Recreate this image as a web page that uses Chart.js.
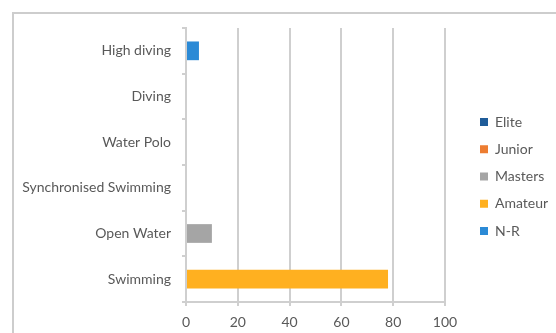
<!DOCTYPE html>
<html><head><meta charset="utf-8">
<script src="https://cdn.jsdelivr.net/npm/chart.js@4/dist/chart.umd.min.js"></script>
<style>
html,body{margin:0;padding:0;background:#fff;}
#wrap{position:relative;width:556px;height:333px;overflow:hidden;background:#fff;}
#frame{position:absolute;left:12px;top:12px;width:600px;height:400px;border:2px solid #cdcdcd;box-sizing:border-box;}
canvas{position:absolute;left:0;top:0;}
</style></head><body>
<div id="wrap"><div id="frame"></div><canvas id="c" width="556" height="333"></canvas></div>
<script>
const categories = ['High diving', 'Diving', 'Water Polo', 'Synchronised Swimming', 'Open Water', 'Swimming'];
const seriesNames = ['Elite', 'Junior', 'Masters', 'Amateur', 'N-R'];
const elite   = [0, 0, 0, 0, 0, 0];
const junior  = [0, 0, 0, 0, 0, 0];
const masters = [0, 0, 0, 0, 10, 0];
const amateur = [0, 0, 0, 0, 0, 78];
const nr      = [5, 0, 0, 0, 0, 0];
const xTicks  = [0, 20, 40, 60, 80, 100];

const seriesColors = ['#1F5C99', '#ED7D31', '#A5A5A5', '#FFB020', '#2B8AD6'];
const seriesValues = [elite, junior, masters, amateur, nr];
const textColor = '#595959';
const lineColor = '#cfcfcf';
const FONT = {family: 'Lato, "Liberation Sans", sans-serif', size: 14};

const LEGEND_BOX_X = 480;
const LEGEND_CY = 176.5;

const legendPlace = {
  id: 'legendPlace',
  afterLayout(chart) {
    const lg = chart.legend;
    if (!lg) return;
    const pad = lg.options.labels.padding;
    const w = lg.width, h = lg.height;
    lg.left = LEGEND_BOX_X - pad; lg.right = lg.left + w;
    lg.top = LEGEND_CY - h / 2; lg.bottom = lg.top + h;
  }
};

new Chart(document.getElementById('c'), {
  type: 'bar',
  data: {
    labels: categories,
    datasets: seriesNames.map((n, i) => ({
      label: n,
      data: seriesValues[i],
      backgroundColor: seriesColors[i],
      borderWidth: 0,
      barPercentage: 0.41,
      categoryPercentage: 1.0
    }))
  },
  options: {
    indexAxis: 'y',
    responsive: false,
    animation: false,
    devicePixelRatio: 1,
    layout: {padding: {left: 0, top: 28, right: 111, bottom: 0}},
    plugins: {
      legend: {
        position: 'chartArea',
        labels: {boxWidth: 8, boxHeight: 8, padding: 13.25, color: textColor, font: FONT}
      },
      tooltip: {enabled: false}
    },
    scales: {
      x: {
        type: 'linear', stacked: true, min: 0, max: 100,
        afterBuildTicks: s => { s.ticks = xTicks.map(v => ({value: v})); },
        afterFit: s => { s.height = 31; },
        ticks: {color: textColor, font: FONT, padding: 8},
        grid: {color: lineColor, lineWidth: 2, tickLength: 4, drawTicks: true},
        border: {display: true, color: lineColor, width: 2}
      },
      y: {
        type: 'category', stacked: true,
        afterFit: s => { s.width = 186; },
        ticks: {color: textColor, font: FONT, padding: 11},
        grid: {offset: true, drawOnChartArea: false, drawTicks: true, tickLength: 4, color: lineColor, lineWidth: 2},
        border: {display: true, color: lineColor, width: 2}
      }
    }
  },
  plugins: [legendPlace]
});
</script>
</body></html>
